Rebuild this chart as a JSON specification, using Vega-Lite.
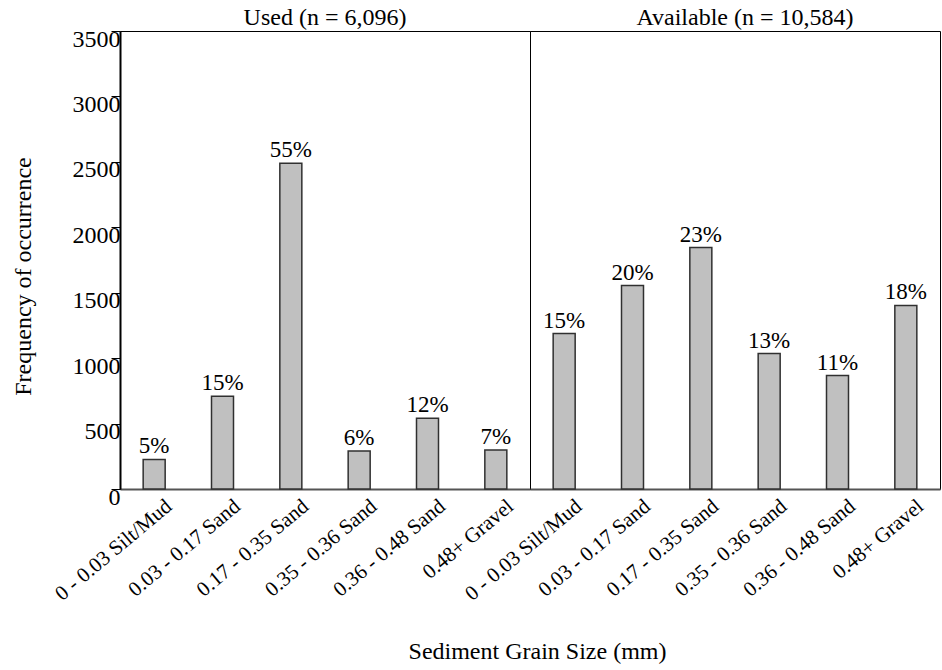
{
  "$schema": "https://vega.github.io/schema/vega-lite/v6.json",
  "padding": {"left": 10, "top": 5, "right": 1, "bottom": 0},
  "bounds": "flush",
  "data": {
    "values": [
      {"panel": "Used", "size": "0 - 0.03 Silt/Mud", "count": 226, "pct": "5%"},
      {"panel": "Used", "size": "0.03 - 0.17 Sand", "count": 708, "pct": "15%"},
      {"panel": "Used", "size": "0.17 - 0.35 Sand", "count": 2490, "pct": "55%"},
      {"panel": "Used", "size": "0.35 - 0.36 Sand", "count": 291, "pct": "6%"},
      {"panel": "Used", "size": "0.36 - 0.48 Sand", "count": 540, "pct": "12%"},
      {"panel": "Used", "size": "0.48+ Gravel", "count": 298, "pct": "7%"},
      {"panel": "Available", "size": "0 - 0.03 Silt/Mud", "count": 1188, "pct": "15%"},
      {"panel": "Available", "size": "0.03 - 0.17 Sand", "count": 1555, "pct": "20%"},
      {"panel": "Available", "size": "0.17 - 0.35 Sand", "count": 1845, "pct": "23%"},
      {"panel": "Available", "size": "0.35 - 0.36 Sand", "count": 1035, "pct": "13%"},
      {"panel": "Available", "size": "0.36 - 0.48 Sand", "count": 867, "pct": "11%"},
      {"panel": "Available", "size": "0.48+ Gravel", "count": 1403, "pct": "18%"}
    ]
  },
  "spacing": 0,
  "hconcat": [
    {
      "title": {"text": "Used (n = 6,096)", "offset": -22, "baseline": "alphabetic"},
      "width": 410,
      "height": 458,
      "transform": [{"filter": "datum.panel == 'Used'"}],
      "encoding": {
        "x": {
          "field": "size",
          "type": "nominal",
          "sort": ["0 - 0.03 Silt/Mud", "0.03 - 0.17 Sand", "0.17 - 0.35 Sand", "0.35 - 0.36 Sand", "0.36 - 0.48 Sand", "0.48+ Gravel"],
          "axis": {"title": null}
        },
        "y": {
          "field": "count",
          "type": "quantitative",
          "scale": {"domain": [0, 3500], "nice": false},
          "axis": {
            "title": "Frequency of occurrence",
            "values": [0, 500, 1000, 1500, 2000, 2500, 3000, 3500],
            "format": "d",
            "grid": false,
            "tickSize": 9,
            "tickColor": "black",
            "domainColor": "black",
            "domainWidth": 2,
            "labelPadding": -9,
            "labelBaseline": "top",
            "labelOffset": -4,
            "labelFontSize": 24,
            "labelOverlap": false,
            "titleFontSize": 24,
            "titleFontWeight": "normal",
            "titleX": -85,
            "titleY": 245
          }
        }
      },
      "layer": [
        {"mark": {"type": "bar", "width": 22, "fill": "#c0c0c0", "stroke": "#303030", "strokeWidth": 1.5}},
        {
          "mark": {"type": "text", "baseline": "alphabetic", "dy": -6, "fontSize": 23, "font": "Liberation Serif", "color": "black"},
          "encoding": {"text": {"field": "pct"}}
        }
      ]
    },
    {
      "title": {"text": "Available (n = 10,584)", "offset": -18, "baseline": "alphabetic", "dx": 10},
      "width": 410,
      "height": 458,
      "transform": [{"filter": "datum.panel == 'Available'"}],
      "encoding": {
        "x": {
          "field": "size",
          "type": "nominal",
          "sort": ["0 - 0.03 Silt/Mud", "0.03 - 0.17 Sand", "0.17 - 0.35 Sand", "0.35 - 0.36 Sand", "0.36 - 0.48 Sand", "0.48+ Gravel"],
          "axis": {"title": null}
        },
        "y": {
          "field": "count",
          "type": "quantitative",
          "scale": {"domain": [0, 3500], "nice": false},
          "axis": null
        }
      },
      "layer": [
        {"mark": {"type": "bar", "width": 22, "fill": "#c0c0c0", "stroke": "#303030", "strokeWidth": 1.5}},
        {
          "mark": {"type": "text", "baseline": "alphabetic", "dy": -6, "fontSize": 23, "font": "Liberation Serif", "color": "black"},
          "encoding": {"text": {"field": "pct"}}
        }
      ]
    }
  ],
  "title": {
    "text": "Sediment Grain Size (mm)",
    "orient": "bottom",
    "anchor": "middle",
    "fontSize": 24,
    "offset": 35,
    "dx": 62
  },
  "config": {
    "font": "Liberation Serif",
    "view": {"stroke": "black", "strokeWidth": 1},
    "title": {"font": "Liberation Serif", "fontSize": 24, "fontWeight": "normal", "color": "black", "anchor": "middle"},
    "axis": {"labelFont": "Liberation Serif", "titleFont": "Liberation Serif", "labelColor": "black", "titleColor": "black"},
    "axisX": {
      "labelAngle": -40,
      "labelFontSize": 21,
      "ticks": false,
      "domainColor": "#555555",
      "domainWidth": 2,
      "labelPadding": 6,
      "labelOffset": 8
    }
  }
}
